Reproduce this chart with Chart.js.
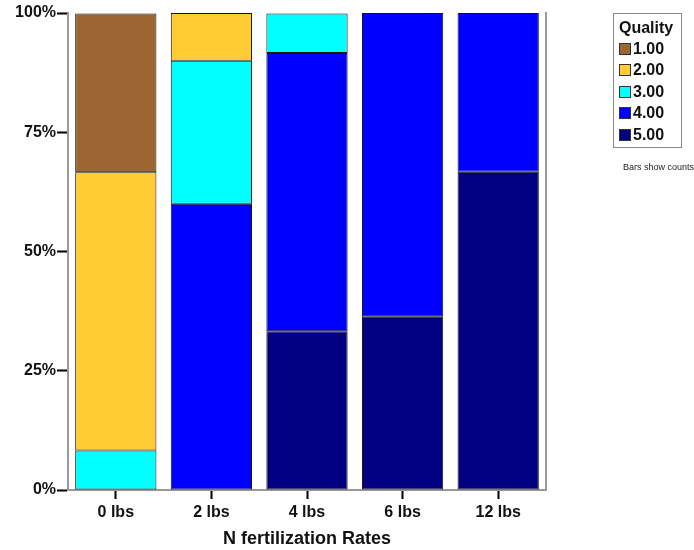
<!DOCTYPE html>
<html lang="en">
<head>
    <meta charset="UTF-8">
    <title>Quality by N fertilization rate</title>
    <script src="https://cdn.jsdelivr.net/npm/chart.js"></script>
    <style>
        body {
            margin: 0;
            background: white;
            font-family: "Liberation Sans", Arial, sans-serif;
        }
        .wrap {
            position: relative;
            width: 694px;
            height: 550px;
        }
        .legend {
            position: absolute;
            left: 613px;
            top: 13px;
            width: 69px;
            height: 135px;
            border: 1px solid #888;
            box-sizing: border-box;
            padding: 4px 0 0 5px;
            font-weight: bold;
            font-size: 16px;
            color: #111;
        }
        .legend .title {
            line-height: 19px;
            margin-bottom: 1px;
        }
        .legend .item {
            display: flex;
            align-items: center;
            height: 21.5px;
        }
        .legend .swatch {
            width: 10px;
            height: 10px;
            border: 1px solid #333;
            margin-right: 2px;
        }
        .note {
            position: absolute;
            left: 623px;
            top: 162px;
            font-size: 9px;
            color: #222;
            white-space: nowrap;
        }
    </style>
</head>
<body>
    <div class="wrap">
        <canvas id="chart" width="694" height="550"></canvas>
        <div class="legend" id="legend"><div class="title">Quality</div></div>
        <div class="note">Bars show counts</div>
    </div>

    <script>
        const rates = ['0 lbs', '2 lbs', '4 lbs', '6 lbs', '12 lbs'];
        const qualityLabels = ['1.00', '2.00', '3.00', '4.00', '5.00'];
        const qualityColors = ['#9c6633', '#ffcc33', '#00ffff', '#0000ff', '#000080'];

        // percent of bar per quality level, one value per rate
        const q1 = [33.3, 0, 0, 0, 0];
        const q2 = [58.3, 10, 0, 0, 0];
        const q3 = [8.3, 30, 8.3, 0, 0];
        const q4 = [0, 60, 58.3, 63.6, 33.3];
        const q5 = [0, 0, 33.3, 36.4, 66.7];
        const yTicks = [0, 25, 50, 75, 100];

        const series = [q1, q2, q3, q4, q5];

        // stack from quality 5 at the bottom up to quality 1 on top
        const datasets = [];
        for (let i = series.length - 1; i >= 0; i--) {
            datasets.push({
                label: qualityLabels[i],
                data: series[i].map(v => v || null),   // skip empty segments
                backgroundColor: qualityColors[i],
                borderColor: '#151515',
                borderWidth: 1,
                borderSkipped: false,
                categoryPercentage: 1.0,
                barPercentage: 0.85
            });
        }

        // legend box
        const legendDiv = document.getElementById('legend');
        qualityLabels.forEach((lab, i) => {
            const row = document.createElement('div');
            row.className = 'item';
            row.innerHTML = `<span class="swatch" style="background:${qualityColors[i]}"></span>${lab}`;
            legendDiv.appendChild(row);
        });

        const tickFont = { family: '"Liberation Sans", Arial, sans-serif', size: 16, weight: 'bold' };

        new Chart(document.getElementById('chart'), {
            type: 'bar',
            data: { labels: rates, datasets: datasets },
            options: {
                responsive: false,
                animation: false,
                layout: { padding: { top: 13, right: 148, left: 0, bottom: 0 } },
                plugins: {
                    legend: { display: false },
                    tooltip: { enabled: false }
                },
                scales: {
                    x: {
                        stacked: true,
                        grid: {
                            offset: false,
                            drawOnChartArea: false,
                            tickLength: 9,
                            tickWidth: 2,
                            tickColor: '#000'
                        },
                        border: { color: '#999', width: 2 },
                        ticks: { font: tickFont, color: '#111', padding: 4 },
                        title: {
                            display: true,
                            text: 'N fertilization Rates',
                            font: { family: '"Liberation Sans", Arial, sans-serif', size: 18, weight: 'bold' },
                            color: '#111',
                            padding: { top: 0, bottom: 0 }
                        },
                        afterFit: s => { s.height = 60; }
                    },
                    y: {
                        stacked: true,
                        min: 0,
                        max: 100,
                        afterBuildTicks: s => { s.ticks = yTicks.map(v => ({ value: v })); },
                        grid: {
                            drawOnChartArea: false,
                            tickLength: 11,
                            tickWidth: 2,
                            tickColor: '#000'
                        },
                        border: { color: '#999', width: 2 },
                        ticks: {
                            font: tickFont,
                            color: '#111',
                            padding: 1,
                            callback: v => v + '%'
                        },
                        afterFit: s => { s.width = 68; }
                    },
                    y2: {
                        position: 'right',
                        min: 0,
                        max: 100,
                        grid: { drawOnChartArea: false, drawTicks: false },
                        border: { color: '#999', width: 2 },
                        ticks: { display: false },
                        afterFit: s => { s.width = 0; }
                    }
                }
            }
        });
    </script>
</body>
</html>
